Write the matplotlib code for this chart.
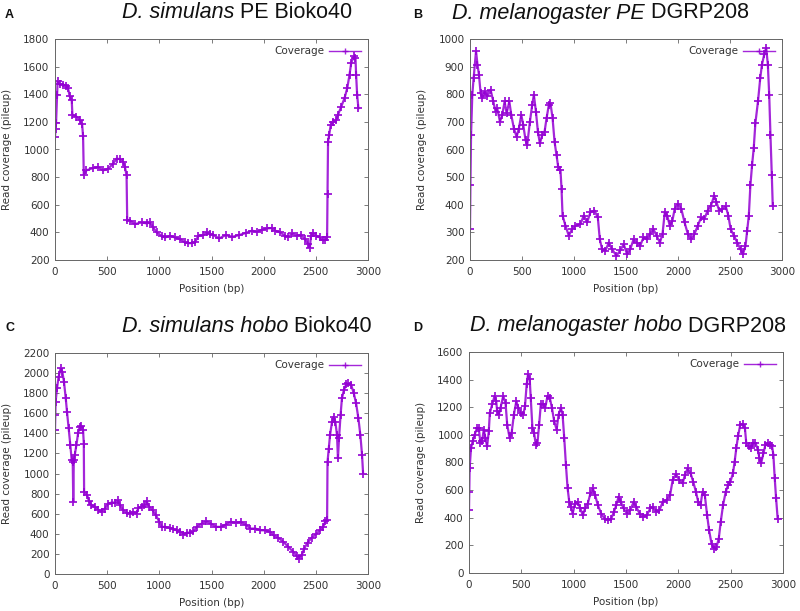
import matplotlib
matplotlib.use("Agg")
import matplotlib.pyplot as plt

# ---------------- data ----------------
A_x = [0, 5, 10, 20, 25, 45, 80, 110, 125, 141, 160, 167, 205, 237, 260, 269, 276, 301, 365, 413,
       461, 510, 558, 590, 622, 654, 670, 686, 692, 718, 766, 830, 878, 910, 942, 974, 1022, 1054, 1103, 1150,
       1199, 1247, 1279, 1311, 1343, 1375, 1423, 1455, 1487, 1519, 1573, 1636, 1700, 1763, 1826, 1889, 1937, 1984, 2032, 2079,
       2111, 2158, 2206, 2237, 2275, 2317, 2358, 2396, 2427, 2443, 2453, 2475, 2506, 2538, 2570, 2592, 2608, 2612, 2617, 2627,
       2643, 2665, 2696, 2712, 2744, 2775, 2801, 2823, 2839, 2864, 2880, 2886, 2896, 2908]
A_y = [1092, 1150, 1190, 1396, 1493, 1474, 1470, 1460, 1444, 1384, 1360, 1250, 1238, 1214, 1182, 1097, 817, 849, 866, 873,
       849, 861, 898, 934, 930, 910, 873, 813, 492, 485, 460, 472, 465, 472, 436, 400, 375, 363, 375, 363,
       351, 327, 322, 322, 331, 375, 380, 400, 387, 380, 356, 380, 368, 380, 395, 412, 404, 419, 429, 431,
       412, 400, 375, 368, 392, 375, 383, 351, 315, 290, 375, 395, 375, 363, 344, 346, 363, 679, 1056, 1104,
       1177, 1197, 1214, 1250, 1311, 1372, 1444, 1542, 1627, 1675, 1663, 1542, 1396, 1299]

B_x = [0, 4, 10, 22, 35, 58, 72, 86, 102, 118, 141, 166, 198, 224, 246, 262, 288, 310, 333, 352,
       378, 397, 422, 448, 470, 493, 512, 534, 550, 576, 598, 614, 634, 653, 672, 694, 717, 736, 758, 774,
       794, 813, 832, 848, 870, 880, 890, 918, 950, 982, 1014, 1062, 1094, 1126, 1158, 1197, 1229, 1248, 1270, 1302,
       1334, 1366, 1408, 1446, 1478, 1510, 1541, 1573, 1604, 1636, 1668, 1700, 1731, 1763, 1794, 1826, 1851, 1873, 1896, 1921,
       1946, 1968, 2000, 2032, 2063, 2095, 2127, 2158, 2190, 2222, 2253, 2285, 2317, 2348, 2370, 2396, 2427, 2459, 2484, 2506,
       2538, 2570, 2601, 2624, 2649, 2665, 2681, 2696, 2712, 2728, 2744, 2769, 2791, 2807, 2829, 2848, 2864, 2877, 2889, 2902,
       2911]
B_y = [312, 470, 652, 798, 859, 956, 907, 871, 804, 786, 810, 792, 816, 774, 737, 749, 701, 725, 774, 731,
       774, 725, 676, 646, 676, 725, 689, 634, 616, 701, 761, 798, 737, 664, 622, 652, 664, 713, 761, 767,
       713, 628, 579, 537, 525, 458, 361, 324, 288, 312, 324, 330, 361, 336, 373, 379, 354, 275, 239, 233,
       263, 239, 215, 236, 257, 221, 239, 275, 263, 251, 282, 275, 294, 312, 288, 263, 294, 373, 361, 324,
       342, 385, 403, 385, 336, 294, 275, 294, 324, 354, 348, 379, 397, 433, 409, 379, 385, 394, 361, 312,
       288, 263, 239, 221, 251, 306, 361, 470, 543, 604, 695, 774, 859, 907, 944, 968, 907, 798, 652, 506,
       397]

C_x = [0, 3, 6, 19, 35, 54, 70, 86, 103, 115, 131, 147, 160, 170, 175, 180, 189, 205, 221, 237,
       253, 269, 276, 279, 308, 327, 349, 381, 413, 446, 478, 510, 542, 574, 606, 622, 654, 686, 718, 750,
       782, 798, 830, 856, 878, 904, 936, 968, 1000, 1022, 1054, 1103, 1135, 1167, 1199, 1231, 1263, 1295, 1327, 1359,
       1407, 1449, 1494, 1541, 1589, 1636, 1684, 1731, 1779, 1826, 1873, 1921, 1968, 2016, 2063, 2095, 2142, 2190, 2237, 2285,
       2317, 2339, 2364, 2389, 2421, 2459, 2500, 2538, 2570, 2592, 2608, 2612, 2624, 2636, 2655, 2671, 2687, 2703, 2712, 2722,
       2737, 2750, 2769, 2791, 2813, 2839, 2864, 2886, 2908, 2927, 2943, 2953]
C_y = [1432, 1582, 1715, 1848, 1964, 2047, 2014, 1914, 1748, 1615, 1449, 1283, 1133, 1117, 718, 1130, 1183, 1283, 1399, 1465,
       1475, 1432, 1299, 817, 784, 724, 685, 668, 641, 618, 651, 701, 711, 711, 734, 685, 635, 611, 601, 618,
       601, 658, 668, 685, 724, 668, 635, 585, 518, 469, 469, 459, 445, 435, 419, 392, 412, 412, 425, 469,
       502, 525, 502, 469, 469, 492, 518, 512, 518, 492, 452, 452, 435, 435, 419, 385, 359, 319, 269, 219,
       179, 153, 186, 253, 312, 359, 395, 435, 469, 525, 535, 1117, 1249, 1382, 1515, 1565, 1515, 1382, 1150, 1349,
       1582, 1748, 1831, 1887, 1897, 1881, 1798, 1698, 1549, 1382, 1183, 1000]

D_x = [0, 3, 6, 19, 35, 54, 77, 93, 109, 125, 141, 157, 173, 189, 199, 221, 244, 260, 269, 285,
       301, 327, 349, 365, 388, 407, 429, 452, 471, 494, 519, 535, 551, 564, 580, 590, 606, 622, 638, 654,
       670, 686, 708, 728, 750, 772, 792, 814, 837, 856, 878, 894, 910, 926, 942, 958, 974, 990, 1013, 1038,
       1064, 1087, 1109, 1135, 1160, 1183, 1205, 1231, 1263, 1295, 1327, 1359, 1385, 1407, 1429, 1449, 1478, 1510, 1541, 1573,
       1598, 1630, 1661, 1700, 1731, 1756, 1788, 1820, 1851, 1889, 1921, 1946, 1978, 2010, 2041, 2063, 2089, 2117, 2142, 2168,
       2190, 2212, 2231, 2253, 2275, 2294, 2317, 2342, 2364, 2386, 2405, 2427, 2453, 2475, 2497, 2522, 2538, 2554, 2570, 2592,
       2617, 2636, 2649, 2674, 2696, 2712, 2737, 2760, 2775, 2791, 2813, 2832, 2854, 2877, 2896, 2908, 2921, 2934, 2949]
D_y = [455, 588, 758, 904, 953, 1001, 1050, 1050, 941, 953, 1038, 977, 916, 1026, 1159, 1220, 1281, 1244, 1172, 1147,
       1196, 1281, 1232, 1074, 977, 1014, 1147, 1244, 1196, 1159, 1147, 1208, 1366, 1439, 1402, 1269, 1050, 1014, 929, 941,
       1074, 1220, 1220, 1196, 1281, 1269, 1196, 1099, 1038, 1147, 1196, 1147, 977, 783, 613, 515, 479, 430, 503, 515,
       467, 418, 467, 503, 576, 613, 564, 491, 430, 394, 382, 394, 443, 491, 552, 515, 467, 430, 455, 515,
       479, 430, 406, 418, 467, 479, 443, 455, 515, 528, 564, 673, 715, 673, 649, 710, 758, 722, 661, 588,
       515, 491, 588, 564, 418, 309, 212, 175, 187, 248, 370, 491, 588, 637, 661, 722, 807, 904, 989, 1074,
       1079, 1050, 941, 916, 904, 941, 941, 892, 831, 795, 868, 929, 941, 929, 916, 856, 686, 540, 394]

panel_letters = ["A", "B", "C", "D"]
title_italic = ["D. simulans", "D. melanogaster PE", "D. simulans hobo", "D. melanogaster hobo"]
title_plain = [" PE Bioko40", " DGRP208", " Bioko40", " DGRP208"]
y_limits = [(200, 1800), (200, 1000), (0, 2200), (0, 1600)]
y_steps = [200, 100, 200, 200]
x_ticks = [0, 500, 1000, 1500, 2000, 2500, 3000]
series_label = "Coverage"
x_label = "Position (bp)"
y_label = "Read coverage (pileup)"

# ---------------- figure ----------------
W, H = 800, 611
fig = plt.figure(figsize=(W / 100, H / 100), dpi=100)

def box(l, t, r, b):
    return [l / W, 1 - b / H, (r - l) / W, (b - t) / H]

axes_boxes = [box(55, 39, 368, 260), box(470, 39, 782, 260),
              box(55, 353, 368, 574), box(469, 352, 783, 573)]
title_pos = [(122, 13), (452, 13), (122, 326), (470, 326)]
letter_pos = [(5, 15), (413, 15), (5, 328), (413, 328)]

color = "#9400d3"
tick_col = "#333333"
data = [(A_x, A_y), (B_x, B_y), (C_x, C_y), (D_x, D_y)]

for i in range(4):
    ax = fig.add_axes(axes_boxes[i])
    xs, ys = data[i]
    ax.plot(xs, ys, color=color, lw=1.6, marker="+", ms=6, mew=1.4, alpha=0.85,
            label=series_label)
    ax.set_xlim(0, 3000)
    lo, hi = y_limits[i]
    ax.set_ylim(lo, hi)
    ax.set_xticks(x_ticks)
    ax.set_yticks(list(range(lo, hi + 1, y_steps[i])))
    ax.tick_params(direction="in", top=True, right=True, length=3, width=0.6,
                   colors="#666666", labelcolor=tick_col, labelsize=7.5)
    ax.tick_params(axis="x", pad=5)
    ax.tick_params(axis="y", pad=4)
    for s in ax.spines.values():
        s.set_color("#666666")
        s.set_linewidth(0.7)
    ax.set_xlabel(x_label, fontsize=7.5, color=tick_col, labelpad=5)
    ax.set_ylabel(y_label, fontsize=7.5, color=tick_col, labelpad=8)
    leg = ax.legend(loc="upper right", frameon=False, markerfirst=False, fontsize=7.5,
                    handlelength=3.0, borderaxespad=0.3, handletextpad=0.5)
    for h in leg.legend_handles:
        h.set_linewidth(1.0)
        h.set_markersize(4.5)
        h.set_markeredgewidth(1.0)
    for t in leg.get_texts():
        t.set_color(tick_col)

    tx, ty = title_pos[i]
    t1 = fig.text(tx / W, 1 - ty / H, title_italic[i], fontsize=15.5, style="italic",
                  family="Liberation Sans", va="center", ha="left", color="#111111")
    fig.canvas.draw()
    ax.annotate(title_plain[i], xy=(1, 0), xycoords=t1, va="bottom", ha="left",
                fontsize=15.5, family="Liberation Sans", color="#111111",
                annotation_clip=False)
    lx, ly = letter_pos[i]
    fig.text(lx / W, 1 - ly / H, panel_letters[i], fontsize=9, fontweight="bold",
             family="Liberation Sans", va="center", ha="left", color="#111111")

fig.savefig("out.png", dpi=100)
